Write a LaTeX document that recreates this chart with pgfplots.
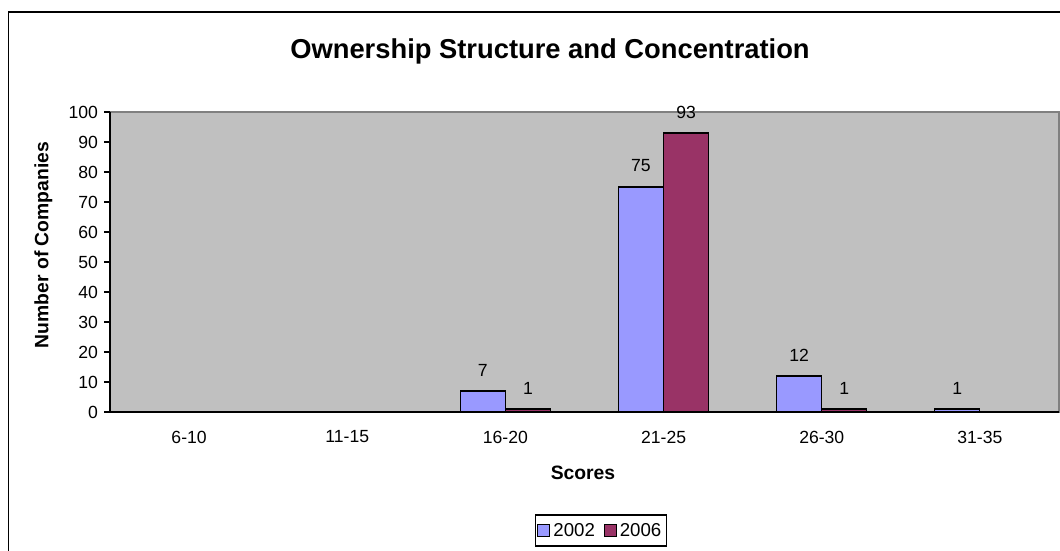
\documentclass[border=0pt]{standalone}
\usepackage{pgfplots}
\pgfplotsset{compat=1.18}
\usepackage{fontspec}
\setmainfont{Liberation Sans}
\definecolor{plotgray}{HTML}{C0C0C0}
\definecolor{bordergray}{HTML}{808080}
\definecolor{blueA}{HTML}{9999FF}
\definecolor{plumB}{HTML}{993366}
\begin{document}
\begin{tikzpicture}[x=0.75pt,y=0.75pt]
\useasboundingbox (0,0) rectangle (1060,550);
\draw[line width=1.2pt] (8.5,-2) -- (8.5,538) -- (1062,538);
\node[font=\bfseries\fontsize{20.5}{23}\selectfont] at (550,499) {Ownership Structure and Concentration};
\node[font=\bfseries\fontsize{14.5}{17}\selectfont, rotate=90] at (43.5,305) {Number of Companies};
\node[font=\bfseries\fontsize{14.5}{17}\selectfont] at (583,77) {Scores};
\begin{axis}[
  at={(82.5pt,103.5pt)}, anchor=south west, scale only axis,
  width=711.75pt, height=225pt,
  ymin=0, ymax=100, ytick={0,10,...,100},
  xmin=-0.5, xmax=5.5,
  axis lines=left, axis line style={-, black, line width=0.9pt},
  axis background/.style={fill=plotgray, draw=bordergray, line width=1pt},
  tick align=outside,
  major tick length=4.5pt,
  tick style={black, line width=0.8pt},
  xtick={0,1,2,3,4,5},
  xticklabels={6-10,11-15,16-20,21-25,26-30,31-35},
  x tick style={draw=none},
  extra x ticks={-0.5,0.5,1.5,2.5,3.5,4.5,5.5},
  extra x tick labels={},
  extra x tick style={tick style={draw=black, line width=0.8pt}, major tick length=3.5pt},
  ticklabel style={font=\fontsize{13.2}{15}\selectfont},
  /pgf/number format/assume math mode=true,
  yticklabel style={xshift=-1pt},
  xticklabel style={yshift=-6pt},
  ybar=0pt, bar width=33.9pt,
  clip=false,
  nodes near coords,
  every node near coord/.append style={font=\fontsize{13.2}{15}\selectfont, anchor=center, yshift=15.75pt, black},
  legend columns=2,
  legend style={at={(0.5174,-0.395)}, anchor=center, draw=black, line width=0.8pt,
    font=\fontsize{14}{16}\selectfont, inner xsep=1.5pt, inner ysep=4pt,
    /tikz/every even column/.append style={column sep=4pt},
    nodes={inner xsep=2.5pt}},
  legend image code/.code={\draw[#1, line width=0.6pt] (0pt,-4.5pt) rectangle (9pt,4.5pt);},
]
\addplot[fill=blueA, draw=black, line width=0.8pt] coordinates {(2,7) (3,75) (4,12) (5,1)};
\addplot[fill=plumB, draw=black, line width=0.8pt] coordinates {(2,1) (3,93) (4,1)};
\legend{2002,2006}
\end{axis}
\end{tikzpicture}
\end{document}
